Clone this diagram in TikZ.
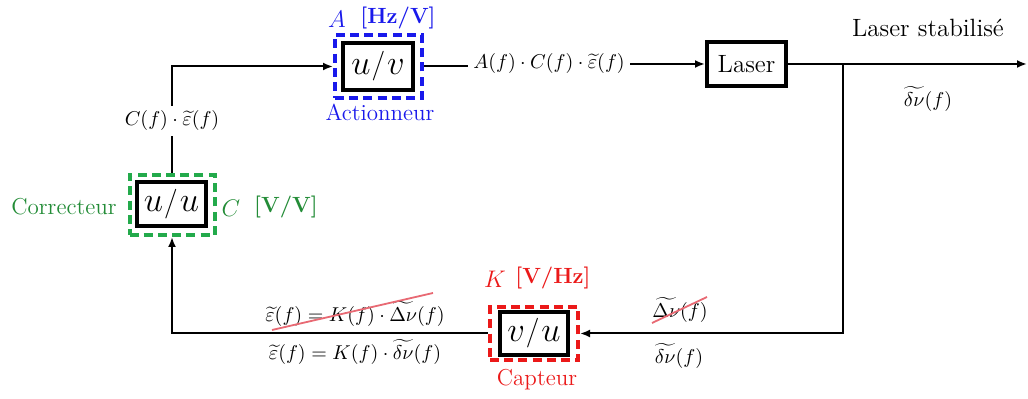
\documentclass[tikz,border=0pt]{standalone}
\usetikzlibrary{arrows.meta,calc}
\definecolor{myblue}{RGB}{25,25,235}
\definecolor{mygreen}{RGB}{35,170,75}
\definecolor{mygreentxt}{RGB}{35,140,55}
\definecolor{myred}{RGB}{235,25,25}
\definecolor{mystrike}{RGB}{232,105,115}
\newcommand{\bx}[2]{$#1$\hspace{0.5pt}\raisebox{0.3pt}{\scalebox{0.8}{/}}\hspace{1pt}$#2$}
\begin{document}
\begin{tikzpicture}[x=0.5pt,y=-0.5pt,
  blkbox/.style={draw=black,line width=2.2pt,inner sep=0pt,fill=white},
  bigm/.style={font=\fontsize{18.5}{22}\selectfont},
  dbox/.style={draw=#1,line width=2pt,dash pattern=on 4.5pt off 2.6pt,inner sep=0pt},
  lbl/.style={inner sep=0pt,font=\fontsize{11.5}{14}\selectfont},
  mlbl/.style={inner sep=0pt,font=\fontsize{10.3}{12}\selectfont},
  wlbl/.style={mlbl,inner sep=2.5pt},
  wire/.style={line width=1pt},
  arr/.style={wire,-{Latex[length=5pt,width=4pt]}},
  strike/.style={draw=mystrike,line width=0.9pt}]
\useasboundingbox (0,0) rectangle (1028,399);

% boxes
\node[dbox=myblue,minimum width=43.5pt,minimum height=31.5pt] (actd) at (378.5,66.5) {};
\node[blkbox,bigm,minimum width=34.8pt,minimum height=23.3pt] (act) at (378,66.5) {\bx{u}{v}};
\node[dbox=mygreen,minimum width=42.5pt,minimum height=30pt] (cord) at (172,205) {};
\node[blkbox,bigm,minimum width=34.3pt,minimum height=21.8pt] (cor) at (171.5,204) {\bx{u}{u}};
\node[dbox=myred,minimum width=44pt,minimum height=26.5pt] (capd) at (534,333.5) {};
\node[blkbox,bigm,minimum width=33.8pt,minimum height=21.3pt] (cap) at (534,333.5) {\bx{v}{u}};
\node[blkbox,minimum width=39.3pt,minimum height=21.8pt,font=\fontsize{12.5}{15}\selectfont] (las) at (746.5,64) {Laser};

% block labels
\node[lbl,text=myblue] (Alab) at (337,19) {$A$};
\node[lbl,text=myblue,font=\fontsize{11}{13}\bfseries] (Aunit) at (398,18) {[Hz/V]};
\node[lbl,text=myblue] (actlab) at (380,112) {Actionneur};
\node[lbl,text=mygreentxt] (corlab) at (64,207) {Correcteur};
\node[lbl,text=mygreentxt] (Clab) at (231,208) {$C$};
\node[lbl,text=mygreentxt,font=\fontsize{11}{13}\bfseries] (Cunit) at (286,207) {[V/V]};
\node[lbl,text=myred] (Klab) at (495,279) {$K$};
\node[lbl,text=myred,font=\fontsize{11}{13}\bfseries] (Kunit) at (553,278) {[V/Hz]};
\node[lbl,text=myred] (caplab) at (537,380) {Capteur};

% signal labels
\node[wlbl] (Ce) at (172,121) {$C(f)\cdot\widetilde{\varepsilon}(f)$};
\node[wlbl] (ACe) at (549,64) {$A(f)\cdot C(f)\cdot\widetilde{\varepsilon}(f)$};
\node[lbl,font=\fontsize{12.5}{15}\selectfont] (stab) at (928,28) {Laser stabilis\'e};
\node[mlbl] (dnu1) at (928,99) {$\widetilde{\delta\nu}(f)$};
\node[mlbl] (eqA) at (355,314) {$\widetilde{\varepsilon}(f) = K(f)\cdot\widetilde{\Delta\nu}(f)$};
\node[mlbl] (eqB) at (355,352) {$\widetilde{\varepsilon}(f) = K(f)\cdot\widetilde{\delta\nu}(f)$};
\node[mlbl] (Dnu) at (680,310) {$\widetilde{\Delta\nu}(f)$};
\node[mlbl] (dnu2) at (679,356) {$\widetilde{\delta\nu}(f)$};

% coordinates
\coordinate (jR) at (843,64);
\coordinate (out) at (1027,64);

% connectors
\draw[wire] (cord.north) -- (cord.north |- Ce.south);
\draw[arr] (cord.north |- Ce.north) -- (cord.north |- actd.west) -- (actd.west);
\draw[wire] (actd.east) -- (actd.east -| ACe.west);
\draw[arr] (ACe.east |- las.west) -- (las.west);
\draw[arr] (las.east) -- (out);
\draw[arr] (jR) -- (jR |- capd.east) -- (capd.east);
\draw[arr] (capd.west) -- (capd.west -| cord.south) -- (cord.south);

% strike-through
\coordinate (s1a) at (272,330);
\coordinate (s1b) at (433,293);
\coordinate (s2a) at (652,323);
\coordinate (s2b) at (707,297);
\draw[strike] (s1a) -- (s1b);
\draw[strike] (s2a) -- (s2b);
\end{tikzpicture}
\end{document}
